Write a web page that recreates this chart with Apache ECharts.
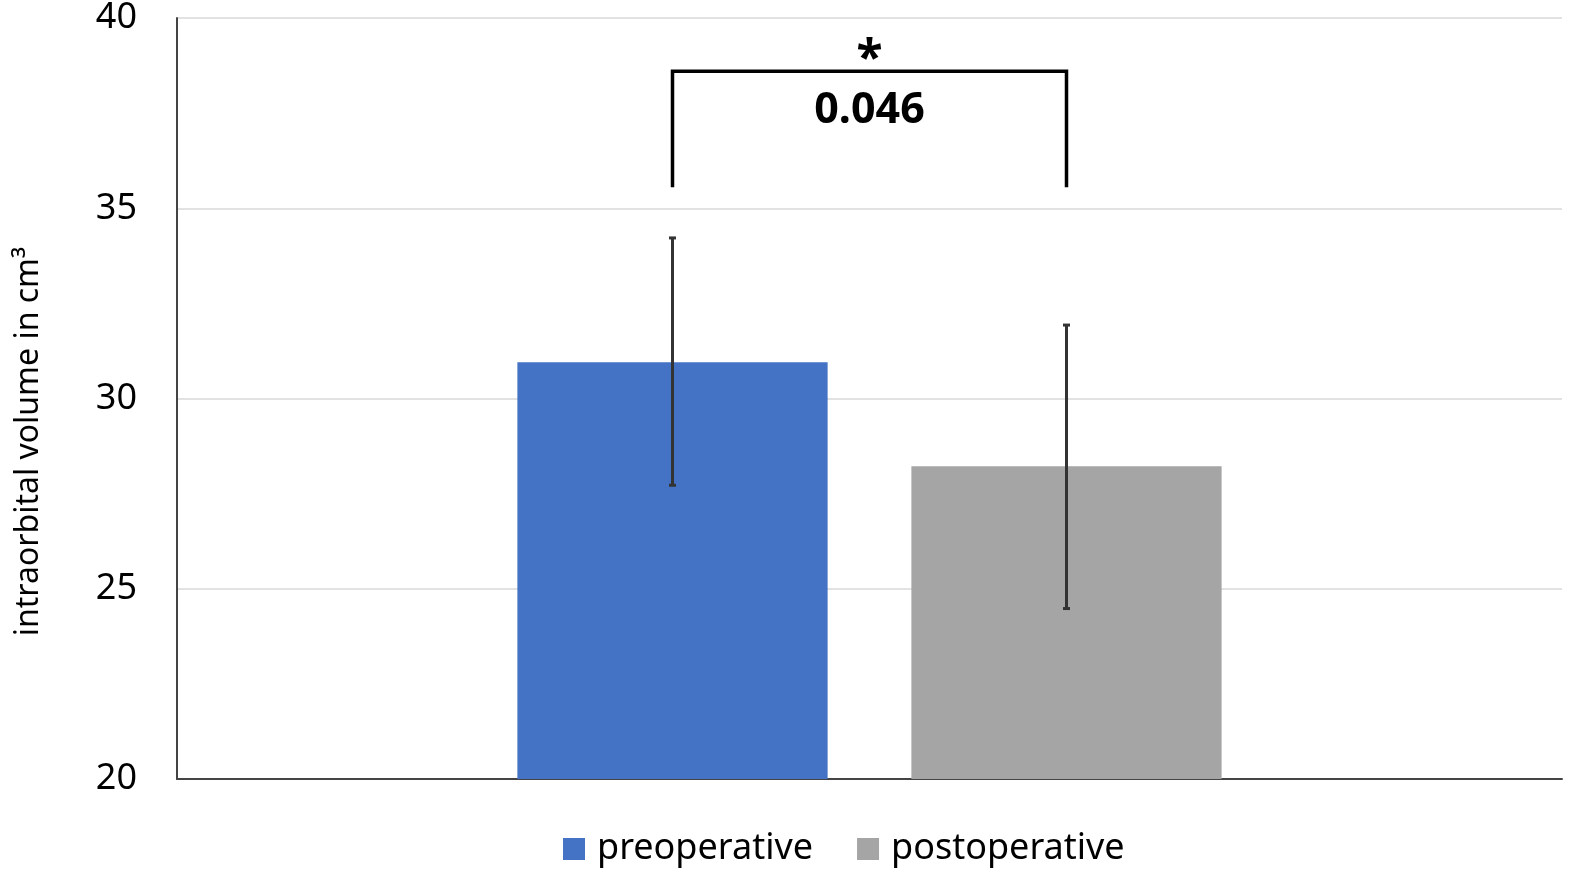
<!DOCTYPE html>
<html>
<head>
<meta charset="utf-8">
<script src="https://cdn.jsdelivr.net/npm/echarts@6/dist/echarts.min.js"></script>
<style>
  html, body { margin: 0; padding: 0; background: #fff; }
  #chart { width: 1575px; height: 872px; }
</style>
</head>
<body>
<div id="chart"></div>
<script>
// values
var seriesNames = ['preoperative', 'postoperative'];
var means = [30.95, 28.22];
var errLow = [27.72, 24.48];
var errHigh = [34.22, 31.93];
var barColors = ['#4472C4', '#A5A5A5'];
var yTicks = [20, 25, 30, 35, 40];

// significance bracket (top value, foot value) and its labels
var bracket = [38.6, 35.55];
var starLevel = 38.9;
var pValueLevel = 37.55;
var pValueText = '0.046';

var BAR_W = 0.224;   // fraction of the category band
var BAR_GAP = 0.27;  // fraction of bar width

// centre offset of series i from the category centre, as band fraction
function barOffset(i) {
  var total = 2 * BAR_W + BAR_W * BAR_GAP;
  return -total / 2 + BAR_W / 2 + i * (BAR_W + BAR_W * BAR_GAP);
}

var chart = echarts.init(document.getElementById('chart'));

var series = seriesNames.map(function (name, i) {
  return {
    name: name,
    type: 'bar',
    data: [means[i]],
    barWidth: (BAR_W * 100) + '%',
    barGap: (BAR_GAP * 100) + '%',
    itemStyle: { color: barColors[i] },
    z: 2
  };
});

// error bars
series.push({
  type: 'custom',
  name: 'err',
  data: [[0]],
  z: 5,
  silent: true,
  renderItem: function (params, api) {
    var band = api.size([1, 0])[0];
    var kids = [];
    for (var i = 0; i < means.length; i++) {
      var x = api.coord([0, 0])[0] + barOffset(i) * band;
      var yTop = api.coord([0, errHigh[i]])[1];
      var yBot = api.coord([0, errLow[i]])[1];
      var st = { stroke: '#333', lineWidth: 3 };
      kids.push({ type: 'line', shape: { x1: x, y1: yTop, x2: x, y2: yBot }, style: st });
      kids.push({ type: 'line', shape: { x1: x - 3.5, y1: yTop, x2: x + 3.5, y2: yTop }, style: st });
      kids.push({ type: 'line', shape: { x1: x - 3.5, y1: yBot, x2: x + 3.5, y2: yBot }, style: st });
    }
    return { type: 'group', children: kids };
  }
});

// significance bracket
series.push({
  type: 'custom',
  name: 'bracket',
  data: [[0]],
  z: 6,
  silent: true,
  renderItem: function (params, api) {
    var band = api.size([1, 0])[0];
    var cx = api.coord([0, 0])[0];
    var x1 = cx + barOffset(0) * band;
    var x2 = cx + barOffset(1) * band;
    var yT = api.coord([0, bracket[0]])[1];
    var yB = api.coord([0, bracket[1]])[1];
    return {
      type: 'group',
      children: [
        {
          type: 'polyline',
          shape: { points: [[x1, yB], [x1, yT], [x2, yT], [x2, yB]] },
          style: { stroke: '#000', lineWidth: 3.5, fill: null }
        },
        {
          type: 'text',
          x: (x1 + x2) / 2,
          y: api.coord([0, starLevel])[1],
          style: {
            text: '*', fill: '#000', font: 'bold 48px "Noto Sans"',
            align: 'center', verticalAlign: 'middle'
          }
        },
        {
          type: 'text',
          x: (x1 + x2) / 2,
          y: api.coord([0, pValueLevel])[1],
          style: {
            text: pValueText, fill: '#000', font: 'bold 43px "Noto Sans"',
            align: 'center', verticalAlign: 'middle'
          }
        }
      ]
    };
  }
});

chart.setOption({
  animation: false,
  textStyle: { fontFamily: '"Noto Sans"' },
  grid: { left: 177, right: 13, top: 18, bottom: 93, containLabel: false },
  legend: {
    data: seriesNames,
    top: 826,
    left: 558,
    icon: 'rect',
    itemWidth: 22,
    itemHeight: 22,
    itemGap: 44,
    textStyle: { fontSize: 36, color: '#000', fontFamily: '"Noto Sans"', padding: [0, 0, 0, 7] }
  },
  xAxis: {
    type: 'category',
    data: [''],
    axisLine: { lineStyle: { color: '#444', width: 2 } },
    axisTick: { show: false },
    axisLabel: { show: false }
  },
  yAxis: {
    type: 'value',
    min: yTicks[0],
    max: yTicks[yTicks.length - 1],
    interval: 5,
    name: 'intraorbital volume in cm³',
    nameLocation: 'middle',
    nameGap: 132,
    nameTextStyle: { fontSize: 32, color: '#000', padding: [0, 86, 0, 0] },
    axisLine: { show: true, lineStyle: { color: '#444', width: 2 } },
    axisTick: { show: false },
    axisLabel: { fontSize: 36, color: '#000', margin: 40 },
    splitLine: { lineStyle: { color: '#d9d9d9', width: 1.5 } }
  },
  series: series
});
</script>
</body>
</html>
